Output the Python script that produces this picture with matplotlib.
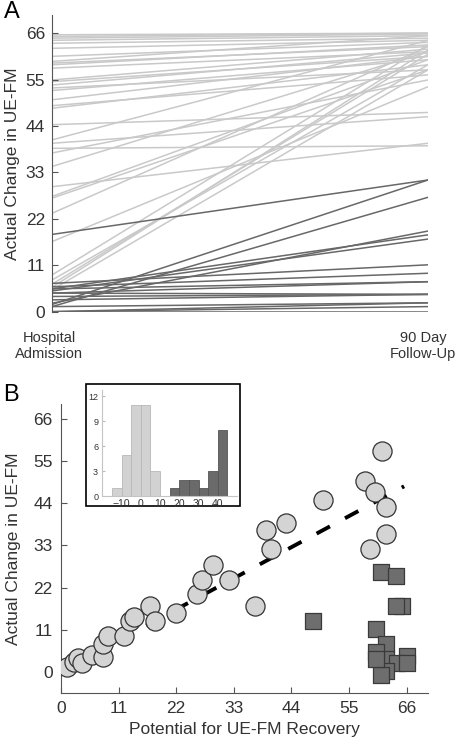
import matplotlib
matplotlib.use("Agg")
import matplotlib.pyplot as plt
from matplotlib.patches import Rectangle
from matplotlib.transforms import ScaledTranslation

plt.rcParams['font.family'] = ['Liberation Sans', 'DejaVu Sans']

# panel A: UE-FM at admission and at 90 days
light_pre = [65.6, 65.2, 64.8, 64.3, 63.6, 62.4, 60.5, 59.3, 58.9, 58.5, 57.7,
             54.9, 54.5, 53.7, 53.0, 52.4, 50.2, 48.8, 48.2, 44.3, 40.7, 39.9,
             38.7, 37.6, 34.4, 29.6, 27.3, 26.9, 23.3, 16.6, 8.7, 7.5, 6.5, 5.8, 5.2]
light_post = [66.0, 66.0, 65.8, 65.4, 64.8, 64.3, 63.8, 65.4, 62.8, 63.2, 61.6,
              62.2, 60.5, 61.3, 57.3, 59.7, 60.5, 56.1, 58.5, 47.2, 64.3, 46.2,
              39.3, 54.9, 61.6, 39.9, 59.7, 57.3, 62.8, 53.3, 63.2, 58.5, 61.0, 62.0, 57.3]
dark_pre = [18.3, 1.7, 1.2, 2.0, 5.4, 4.9, 6.7, 5.9, 4.4, 5.4, 3.6, 4.4, 2.8,
            0.0, 1.2, 0.0, 0.0]
dark_post = [31.2, 31.2, 27.1, 19.1, 18.2, 17.2, 11.1, 9.1, 7.1, 7.1, 4.1, 4.1,
             4.1, 2.1, 2.1, 0.0, 1.2]
timepoints = ["Hospital\nAdmission", "90 Day\nFollow-Up"]

# panel B: potential vs actual change
fit_pot = [1.1, 2.4, 3.3, 4.0, 6.0, 8.0, 8.0, 8.9, 12.1, 13.1, 14.0, 17.0, 18.0,
           22.0, 26.0, 27.0, 29.0, 32.1, 37.1, 39.1, 40.1, 43.0, 50.0, 58.0,
           61.2, 59.9, 62.1, 62.1, 58.9]
fit_act = [1.2, 2.6, 3.5, 2.2, 4.4, 3.9, 7.2, 9.3, 9.3, 13.3, 14.2, 17.3, 13.3,
           15.3, 20.3, 24.1, 27.9, 24.1, 17.2, 37.0, 32.1, 39.0, 45.0, 49.9,
           57.8, 47.1, 43.0, 36.0, 32.1]
nonfit_pot = [61.0, 64.0, 65.0, 64.0, 48.1, 60.1, 62.0, 62.0, 66.0, 64.1, 66.0,
              62.0, 61.0, 60.1, 60.1]
nonfit_act = [26.1, 25.0, 17.1, 17.1, 13.3, 11.2, 7.2, 3.2, 4.2, 2.2, 2.2,
              0.3, -0.9, 5.2, 3.2]
line_x = [0, 65.5]
line_slope = 0.74

# inset histogram
bin_left = [-15, -10, -5, 0, 5, 10, 15, 20, 25, 30, 35, 40]
counts_fit = [1, 5, 11, 11, 3, 0, 0, 0, 0, 0, 0, 0]
counts_nonfit = [0, 0, 0, 0, 0, 0, 1, 2, 2, 1, 3, 8]

ticks66 = [0, 11, 22, 33, 44, 55, 66]
light = "#c9c9c9"
dark = "#686868"
spine_c = "#555555"
txt_c = "#333333"

fig = plt.figure(figsize=(4.59, 7.41), dpi=100)

# ---- panel A
axA = fig.add_axes([0.1133, 0.5794, 0.8192, 0.4004])
for a, b in zip(light_pre, light_post):
    axA.plot([0, 1], [a, b], color=light, lw=1.1, zorder=1)
for a, b in zip(dark_pre, dark_post):
    axA.plot([0, 1], [a, b], color=dark, lw=1.1, zorder=2)
axA.set_xlim(0, 1)
axA.set_ylim(0, 70.3)
axA.set_yticks(ticks66)
axA.set_xticks([0, 1])
axA.set_xticklabels(timepoints, fontsize=10.5, color=txt_c)
axA.tick_params(axis='x', length=0, pad=14)
for lab, dx in zip(axA.get_xticklabels(), [-3, -5]):
    lab.set_transform(lab.get_transform() + ScaledTranslation(dx / 100, 0, fig.dpi_scale_trans))
axA.tick_params(axis='y', direction='in', length=4, labelsize=12.5,
                colors=spine_c, labelcolor=txt_c, pad=5)
for s in ['top', 'right', 'bottom']:
    axA.spines[s].set_visible(False)
axA.spines['left'].set_color(spine_c)
axA.set_ylabel("Actual Change in UE-FM", fontsize=12.5, color=txt_c, labelpad=4)

# ---- panel B
axB = fig.add_axes([0.1329, 0.0652, 0.7989, 0.3896])
xs = [line_x[0], line_x[1]]
axB.plot(xs, [line_slope * v for v in xs], color='black', lw=2.8,
         dashes=(3.9, 4.4), zorder=1)
axB.scatter(fit_pot, fit_act, s=190, marker='o', facecolor="#d4d4d4",
            edgecolor="#333333", linewidth=0.9, zorder=3)
axB.scatter(nonfit_pot, nonfit_act, s=120, marker='s', facecolor="#6e6e6e",
            edgecolor="#3a3a3a", linewidth=0.9, zorder=4)
axB.set_xlim(0, 70)
axB.set_ylim(-5.5, 70)
axB.set_xticks(ticks66)
axB.set_yticks(ticks66)
axB.tick_params(direction='in', length=4, labelsize=12.5, colors=spine_c,
                labelcolor=txt_c, pad=6)
for s in ['top', 'right']:
    axB.spines[s].set_visible(False)
for s in ['left', 'bottom']:
    axB.spines[s].set_color(spine_c)
axB.set_xlabel("Potential for UE-FM Recovery", fontsize=12.5, color=txt_c, labelpad=4)
axB.set_ylabel("Actual Change in UE-FM", fontsize=12.5, color=txt_c, labelpad=9)

# ---- inset
fig.add_artist(Rectangle((0.1867, 0.3171), 0.3355, 0.165, transform=fig.transFigure,
                         facecolor='white', edgecolor='black', lw=1.2, zorder=5))
axI = fig.add_axes([0.2229, 0.3302, 0.2935, 0.1435], zorder=6)
axI.patch.set_alpha(0)
axI.bar(bin_left, counts_fit, width=5, align='edge', color="#d2d2d2",
        edgecolor="#b8b8b8", linewidth=0.6)
axI.bar(bin_left, counts_nonfit, width=5, align='edge', color="#6a6a6a",
        edgecolor="#555555", linewidth=0.6)
axI.set_xlim(-20, 50)
axI.set_ylim(0, 12.75)
axI.set_xticks([-10, 0, 10, 20, 30, 40])
axI.set_yticks([0, 3, 6, 9, 12])
axI.tick_params(axis='x', length=0, labelsize=7.5, labelcolor=txt_c, pad=2)
axI.tick_params(axis='y', direction='in', length=2, labelsize=6.5,
                colors="#bbbbbb", labelcolor=txt_c, pad=3)
for s in ['top', 'right']:
    axI.spines[s].set_visible(False)
for s in ['left', 'bottom']:
    axI.spines[s].set_color("#c4c4c4")

fig.text(0.008, 0.999, "A", fontsize=17, color='black', va='top', ha='left')
fig.text(0.006, 0.482, "B", fontsize=17, color='black', va='top', ha='left')

fig.savefig("out.png", dpi=100)
